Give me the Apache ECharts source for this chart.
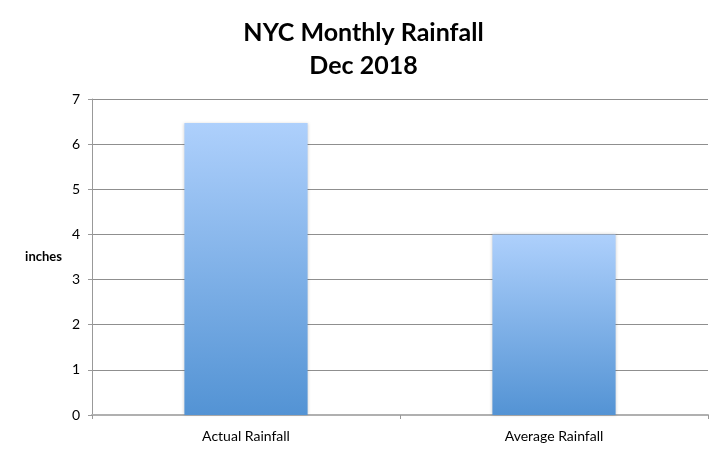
<!DOCTYPE html>
<html>
<head>
<meta charset="utf-8">
<script src="https://cdn.jsdelivr.net/npm/echarts@6/dist/echarts.min.js"></script>
<style>html,body{margin:0;padding:0;background:#fff}#c{width:727px;height:452px}</style>
</head>
<body>
<div id="c"></div>
<script>
const categories = ['Actual Rainfall', 'Average Rainfall'];
const rainfall = [6.47, 4.0];
const yTicks = { min: 0, max: 7, interval: 1 };

const chart = echarts.init(document.getElementById('c'));
chart.setOption({
  animation: false,
  backgroundColor: '#fff',
  title: {
    text: 'NYC Monthly Rainfall\nDec 2018',
    left: 'center',
    top: 11,
    textStyle: { fontFamily: 'Lato', fontWeight: 'bold', fontSize: 25, color: '#000', lineHeight: 33 }
  },
  grid: { left: 92, right: 19, top: 99, bottom: 37 },
  xAxis: {
    type: 'category',
    data: categories,
    axisLine: { show: true, lineStyle: { color: '#b0b0b0', width: 2 } },
    axisTick: { show: true, length: 4, lineStyle: { color: '#999' } },
    axisLabel: { color: '#000', fontFamily: 'Lato', fontSize: 14, margin: 14 }
  },
  yAxis: {
    type: 'value',
    min: yTicks.min, max: yTicks.max, interval: yTicks.interval,
    name: 'inches',
    nameLocation: 'middle',
    nameRotate: 0,
    nameGap: 30,
    nameTextStyle: { fontFamily: 'Lato', fontWeight: 'bold', fontSize: 13, color: '#000' },
    axisLine: { show: true, lineStyle: { color: '#999', width: 1 } },
    axisTick: { show: true, length: 4, lineStyle: { color: '#999' } },
    axisLabel: { color: '#000', fontFamily: 'Lato', fontSize: 14, margin: 12 },
    splitLine: { show: true, lineStyle: { color: '#8f8f8f', width: 1 } }
  },
  series: [{
    type: 'bar',
    data: rainfall,
    barWidth: '40%',
    itemStyle: {
      color: new echarts.graphic.LinearGradient(0, 0, 0, 1, [
        { offset: 0, color: '#aed0fc' },
        { offset: 1, color: '#5393d4' }
      ]),
      shadowColor: 'rgba(0,0,0,0.18)',
      shadowBlur: 3
    }
  }]
});
</script>
</body>
</html>
